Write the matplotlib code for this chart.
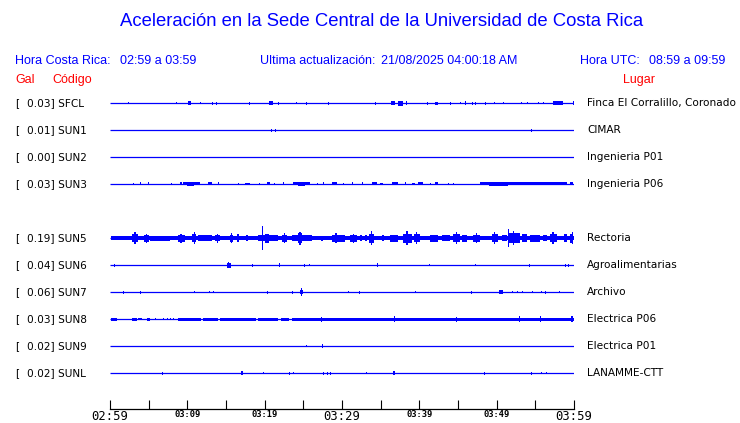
import matplotlib
matplotlib.use("Agg")
from matplotlib import pyplot as plt

# stations, top to bottom (SUN4 is not reporting, its row stays empty)
codes = ["SFCL", "SUN1", "SUN2", "SUN3", "SUN4", "SUN5", "SUN6", "SUN7", "SUN8", "SUN9", "SUNL"]
gal = [0.03, 0.01, 0.00, 0.03, None, 0.19, 0.04, 0.06, 0.03, 0.02, 0.02]
places = ["Finca El Corralillo, Coronado", "CIMAR", "Ingenieria P01", "Ingenieria P06", "",
          "Rectoria", "Agroalimentarias", "Archivo", "Electrica P06", "Electrica P01", "LANAMME-CTT"]

tick_min = list(range(0, 61, 5))
tick_lab = ["02:59", "", "03:09", "", "03:19", "", "03:29", "", "03:39", "", "03:49", "", "03:59"]

# bursts per station: (start minute after 02:59, end minute, half amplitude)
ev_sfcl = [(2.3, 2.3, 1), (8.5, 8.5, 1), (10.1, 10.5, 2), (11.6, 11.6, 1), (13.2, 13.2, 1.5),
           (13.7, 13.7, 1.5), (18.0, 18.0, 1.5), (20.6, 21.1, 2), (21.7, 21.7, 1.5), (24.1, 24.1, 1),
           (25.3, 25.3, 1.5), (28.2, 28.2, 1.5), (34.3, 34.3, 1.5), (36.3, 36.9, 2), (37.2, 37.9, 2.5),
           (38.3, 38.3, 2), (41.0, 41.0, 1.5), (42.0, 42.4, 1.5), (44.0, 44.0, 1.5), (45.3, 45.3, 1),
           (45.9, 45.9, 2), (46.8, 46.8, 1.5), (47.2, 47.2, 1.5), (48.5, 48.5, 1.5), (49.7, 49.7, 1),
           (50.8, 50.8, 1), (53.1, 53.1, 1), (53.9, 53.9, 1), (55.3, 55.3, 1), (56.0, 56.0, 1),
           (57.3, 58.6, 2), (59.9, 59.9, 2)]
ev_sun1 = [(20.8, 20.8, 1.5), (21.3, 21.3, 1.5), (54.4, 54.6, 1.5)]
ev_sun2 = []
ev_sun3 = [(3.0, 3.0, 1), (3.9, 3.9, 1.5), (4.9, 4.9, 1.5), (7.9, 7.9, 1), (9.1, 9.3, 1.5),
           (9.4, 11.6, 1.5), (10.0, 10.9, 2), (12.7, 13.2, 1.5), (14.0, 14.0, 1.5), (16.6, 16.6, 1),
           (17.5, 18.1, 1), (19.3, 19.3, 1), (20.3, 20.7, 1.5), (21.2, 21.2, 1), (22.4, 22.4, 1.5),
           (23.7, 25.9, 1.5), (24.3, 25.2, 2), (26.8, 26.8, 1), (27.5, 27.5, 1.5), (28.7, 29.4, 1.5),
           (30.1, 30.1, 1), (31.3, 31.3, 1.5), (32.6, 32.6, 1.5), (33.9, 34.5, 1.5), (34.9, 35.3, 1),
           (36.5, 37.2, 1.5), (38.1, 38.1, 1.5), (39.1, 39.4, 1), (39.8, 40.5, 1.5), (41.4, 41.4, 1),
           (42.0, 42.4, 1.5), (43.7, 43.7, 1), (44.4, 44.4, 1), (47.8, 55.6, 1.5), (49.0, 51.5, 2),
           (55.6, 59.1, 1.5), (59.5, 59.9, 1.5)]
ev_sun4 = []
ev_sun5 = [(0.1, 60.0, 2), (2.8, 3.6, 4), (3.1, 3.3, 6), (4.4, 5.0, 3.5), (4.6, 4.7, 4.5),
           (5.2, 7.8, 2.5), (8.8, 9.7, 3.5), (9.1, 9.3, 4.5), (10.6, 11.1, 4), (10.8, 10.9, 6),
           (11.4, 13.2, 3), (13.6, 14.2, 3), (13.8, 13.9, 4.5), (15.5, 15.9, 3.5), (15.6, 15.7, 5),
           (16.4, 16.7, 4), (17.6, 17.9, 3), (19.1, 21.7, 3), (20.1, 20.6, 4.5), (19.7, 19.8, 12),
           (22.2, 22.9, 3.5), (22.5, 22.6, 5), (23.5, 26.1, 3), (24.3, 24.8, 5), (24.5, 24.6, 6.5),
           (27.3, 27.5, 2.5), (28.7, 30.4, 3.5), (29.1, 29.4, 5), (31.0, 31.9, 3.5), (31.4, 31.5, 4.5),
           (32.3, 32.6, 3), (33.0, 33.2, 3), (33.5, 34.1, 4.5), (33.8, 33.9, 7), (35.2, 35.4, 3),
           (36.2, 37.2, 3.5), (37.9, 39.0, 4.5), (38.3, 38.5, 7), (39.3, 40.1, 4), (39.6, 39.7, 6),
           (41.4, 42.4, 3.5), (42.9, 44.0, 3), (44.4, 45.3, 4), (44.7, 44.8, 6), (45.5, 46.2, 3.5),
           (46.9, 47.8, 3.5), (47.3, 47.4, 5), (49.4, 50.2, 4), (49.7, 49.8, 6), (50.7, 51.3, 3),
           (51.5, 53.0, 5), (51.5, 51.6, 9), (52.1, 52.3, 7), (53.3, 53.9, 4), (54.3, 55.6, 3.5),
           (56.0, 56.5, 3), (56.9, 57.8, 4), (57.2, 57.4, 6), (58.7, 59.1, 4), (59.5, 59.9, 4.5),
           (59.7, 59.8, 6)]
ev_sun6 = [(0.5, 0.5, 1.5), (15.1, 15.6, 2.5), (15.3, 15.4, 3), (18.4, 18.4, 1.5), (21.9, 21.9, 2),
           (25.1, 25.1, 1.5), (25.7, 25.7, 1), (34.5, 34.5, 2), (41.3, 41.3, 1), (47.2, 47.2, 1),
           (54.2, 54.2, 1.5), (58.8, 58.8, 1.5), (59.2, 59.2, 1.5)]
ev_sun7 = [(1.7, 1.7, 1.5), (3.9, 3.9, 1.5), (10.9, 10.9, 1), (12.8, 12.8, 1), (13.3, 13.3, 1),
           (20.3, 20.3, 1.5), (23.5, 23.5, 1.5), (24.6, 25.0, 2), (24.7, 24.8, 4), (30.8, 30.8, 1),
           (32.2, 32.2, 1.5), (39.4, 39.4, 1), (46.7, 46.7, 1.5), (50.3, 50.8, 2), (52.0, 52.0, 1),
           (52.6, 52.6, 1), (53.3, 53.3, 1), (54.6, 54.6, 1), (55.7, 55.7, 1), (56.3, 56.3, 1.5),
           (58.1, 58.1, 1)]
ev_sun8 = [(0.1, 0.9, 1.5), (2.8, 3.5, 1.5), (3.6, 4.1, 1), (4.8, 5.2, 1.5), (5.8, 5.8, 1),
           (6.9, 6.9, 1), (7.4, 7.4, 1), (7.8, 7.8, 1), (8.2, 8.2, 1), (8.8, 11.8, 1.5),
           (12.0, 14.0, 1.5), (14.2, 18.9, 1.5), (19.1, 21.7, 1.5), (22.1, 23.2, 1.5), (23.5, 60.0, 1.5),
           (27.3, 27.3, 2.5), (36.7, 36.7, 3), (44.7, 44.7, 2.5), (52.9, 52.9, 3), (55.6, 55.6, 3),
           (59.6, 59.9, 3)]
ev_sun9 = [(25.3, 25.3, 1), (27.4, 27.4, 2)]
ev_sunl = [(6.7, 6.7, 1.5), (17.0, 17.2, 2), (19.8, 19.8, 1), (23.1, 23.1, 1.5), (23.7, 23.7, 1),
           (27.5, 27.5, 1.5), (28.1, 28.1, 1.5), (28.4, 28.4, 1.5), (33.1, 33.1, 1), (36.6, 36.8, 2),
           (48.4, 48.4, 1.5), (54.4, 54.4, 1.5), (55.7, 55.7, 1), (56.4, 56.4, 1)]
events = [ev_sfcl, ev_sun1, ev_sun2, ev_sun3, ev_sun4, ev_sun5, ev_sun6, ev_sun7, ev_sun8, ev_sun9, ev_sunl]

BLUE = "#0000ff"
RED = "#ff0000"
W, H = 740, 423

fig = plt.figure(figsize=(7.4, 4.23), dpi=100)
ax = fig.add_axes([110 / W, (H - 409) / H, 464 / W, (409 - 90) / H])
ax.set_xlim(0, 60)
ax.set_ylim(409, 90)

def fx(px):
    return px / W

def fy(py):
    return 1 - py / H

for i, code in enumerate(codes):
    if gal[i] is None:
        continue
    y0 = 103 + 27 * i
    ax.plot([0, 60], [y0, y0], color=BLUE, lw=0.9, snap=True, solid_capstyle="butt")
    ev = events[i]
    if ev:
        x = [e[0] for e in ev]
        w = [max(e[1] - e[0], 0.14) for e in ev]
        a = [e[2] for e in ev]
        ax.bar(x, [2 * v for v in a], width=w, bottom=[y0 - v for v in a], align="edge",
               color=BLUE, linewidth=0)
    fig.text(fx(15), fy(y0), "[", fontsize=7.6, va="center", family="DejaVu Sans")
    fig.text(fx(27), fy(y0), "%.2f] %s" % (gal[i], code), fontsize=7.6, va="center", family="DejaVu Sans")
    fig.text(fx(587), fy(y0), places[i], fontsize=7.6, va="center", family="DejaVu Sans")

for s in ["top", "left", "right"]:
    ax.spines[s].set_visible(False)
ax.spines["bottom"].set_linewidth(0.9)
ax.set_yticks([])
ax.set_xticks(tick_min)
ax.set_xticklabels(tick_lab, family="DejaVu Sans Mono")
ax.tick_params(axis="x", direction="in", length=6.5, width=0.8, pad=0.5)
for lab in ax.get_xticklabels():
    if lab.get_text() in ("02:59", "03:29", "03:59"):
        lab.set_fontsize(8.8)
    else:
        lab.set_fontsize(6.3)
        lab.set_fontweight("bold")

hf = "Liberation Sans"
fig.text(fx(382), fy(22), "Aceleración en la Sede Central de la Universidad de Costa Rica",
         fontsize=13.3, color=BLUE, ha="center", va="center", family=hf)
fig.text(fx(15), fy(61), "Hora Costa Rica:", fontsize=9, color=BLUE, va="center", family=hf)
fig.text(fx(120), fy(61), "02:59 a 03:59", fontsize=9, color=BLUE, va="center", family=hf)
fig.text(fx(260), fy(61), "Ultima actualización:", fontsize=9, color=BLUE, va="center", family=hf)
fig.text(fx(381), fy(61), "21/08/2025 04:00:18 AM", fontsize=9, color=BLUE, va="center", family=hf)
fig.text(fx(580), fy(61), "Hora UTC:", fontsize=9, color=BLUE, va="center", family=hf)
fig.text(fx(649), fy(61), "08:59 a 09:59", fontsize=9, color=BLUE, va="center", family=hf)
fig.text(fx(15), fy(80), "Gal", fontsize=9, color=RED, va="center", family=hf)
fig.text(fx(52), fy(80), "Código", fontsize=9, color=RED, va="center", family=hf)
fig.text(fx(623), fy(80), "Lugar", fontsize=9, color=RED, va="center", family=hf)

plt.savefig("out.png", dpi=100)
